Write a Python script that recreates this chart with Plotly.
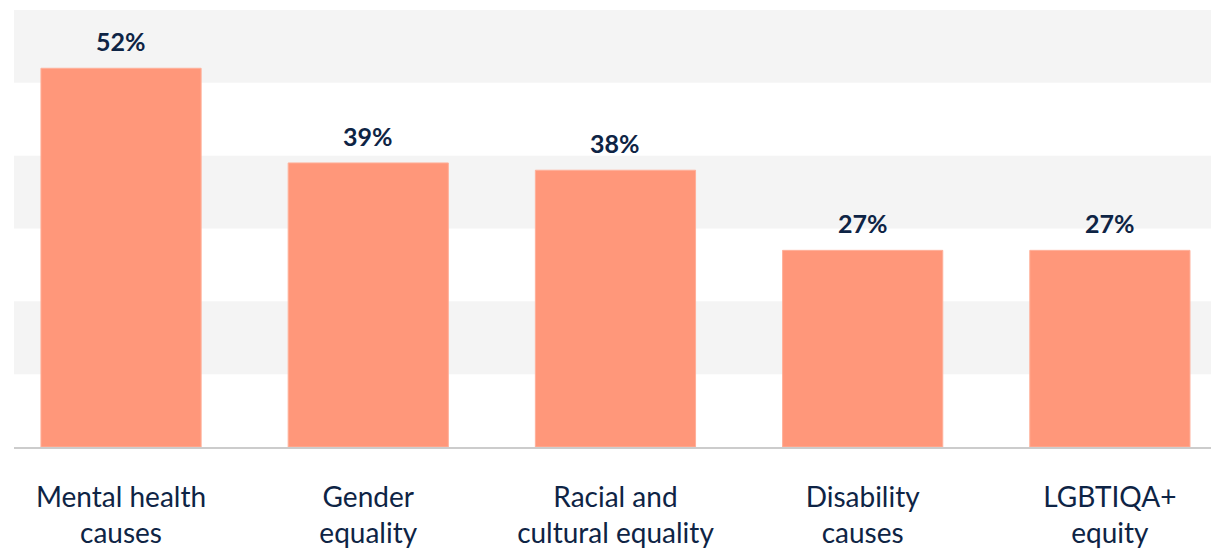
import plotly.graph_objects as go

categories = ["Mental health<br>causes", "Gender<br>equality", "Racial and<br>cultural equality",
              "Disability<br>causes", "LGBTIQA+<br>equity"]
values = [52, 39, 38, 27, 27]
labels = [f"{v}%" for v in values]
band_ranges = [(50, 60), (30, 40), (10, 20)]

navy = "#0E2445"
xs = list(range(len(categories)))
fig = go.Figure()
fig.add_trace(go.Bar(
    x=xs, y=values,
    width=0.648,
    marker=dict(color="#FF977A", line=dict(color="#FFB09A", width=1)),
    hoverinfo="skip",
))
for x, v, t in zip(xs, values, labels):
    fig.add_annotation(x=x, y=v, text=t, showarrow=False, yanchor="bottom", yshift=10,
                       font=dict(family="Lato", size=25, color=navy, weight="bold"))
for y0, y1 in band_ranges:
    fig.add_shape(type="rect", xref="paper", yref="y", x0=0, x1=1, y0=y0, y1=y1,
                  fillcolor="#F4F4F4", line=dict(width=0), layer="below")

fig.update_layout(
    width=1211, height=548,
    margin=dict(l=14, r=0, t=10, b=101),
    paper_bgcolor="white", plot_bgcolor="white",
    showlegend=False,
    xaxis=dict(
        range=[-0.433, 4.409],
        tickmode="array", tickvals=xs, ticktext=categories,
        tickfont=dict(family="Lato", size=28, color=navy),
        showgrid=False, zeroline=False,
        showline=True, linecolor="#CCCCCC", linewidth=2,
        ticks="outside", ticklen=24, tickcolor="rgba(0,0,0,0)",
    ),
    yaxis=dict(range=[0, 60], showgrid=False, zeroline=False, showticklabels=False, fixedrange=True),
)
fig.write_html("out.html")
